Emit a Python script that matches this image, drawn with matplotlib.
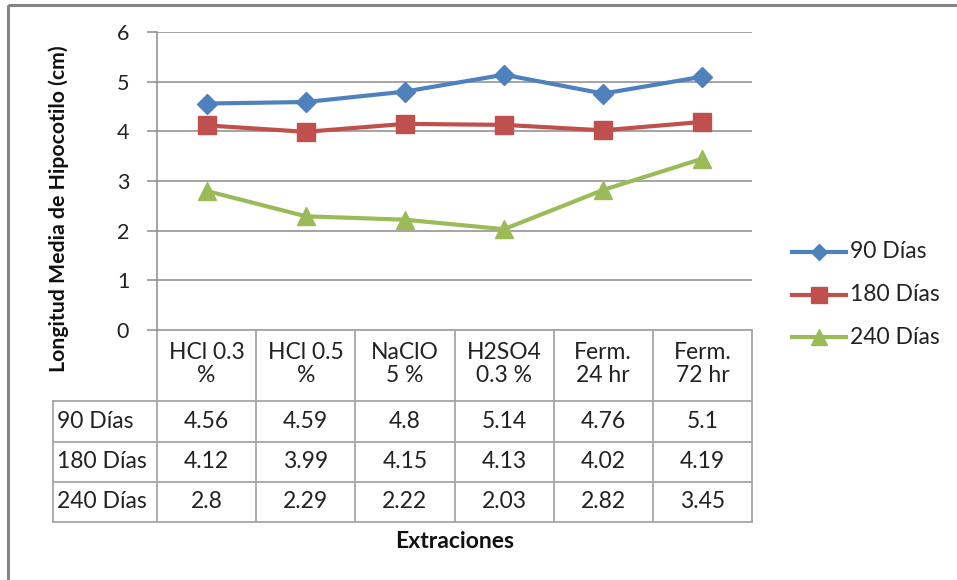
import matplotlib.pyplot as plt
from matplotlib.patches import Rectangle

plt.rcParams['font.family'] = ['Lato', 'DejaVu Sans']

categorias = ['HCl 0.3\n%', 'HCl 0.5\n%', 'NaClO\n5 %', 'H2SO4\n0.3 %', 'Ferm.\n24 hr', 'Ferm.\n72 hr']
series = ['90 Días', '180 Días', '240 Días']
dias_90 = [4.56, 4.59, 4.8, 5.14, 4.76, 5.1]
dias_180 = [4.12, 3.99, 4.15, 4.13, 4.02, 4.19]
dias_240 = [2.8, 2.29, 2.22, 2.03, 2.82, 3.45]
valores = [dias_90, dias_180, dias_240]
etiquetas = [['4.56', '4.59', '4.8', '5.14', '4.76', '5.1'],
             ['4.12', '3.99', '4.15', '4.13', '4.02', '4.19'],
             ['2.8', '2.29', '2.22', '2.03', '2.82', '3.45']]

colores = ['#4F81BD', '#C0504D', '#9BBB59']
marcadores = ['D', 's', '^']
tam = [10, 13, 13]
fs = 16.5
tc = '#222222'

W, H = 957, 580
fig = plt.figure(figsize=(W / 100, H / 100), dpi=100)

# capa en pixeles para marco, tabla y leyenda
bg = fig.add_axes([0, 0, 1, 1])
bg.set_xlim(0, W)
bg.set_ylim(H, 0)
bg.axis('off')
bg.add_patch(Rectangle((8, 5), W + 20, H + 20, fill=False, ec='#858585', lw=2.2))

x0, x1, ytop, ybot = 157, 752, 32, 330
ax = fig.add_axes([x0 / W, 1 - ybot / H, (x1 - x0) / W, (ybot - ytop) / H])
n = len(categorias)
xs = list(range(n))
for vals, c, m, s in zip(valores, colores, marcadores, tam):
    ax.plot(xs, vals, color=c, lw=3, marker=m, ms=s, mec=c, zorder=3)
ax.set_xlim(-0.5, n - 0.5)
ax.set_ylim(0, 6)
ax.set_yticks(range(7))
ax.yaxis.grid(True, color='#8c8c8c', lw=1.1)
ax.set_xticks([])
for sp in ['top', 'right', 'bottom']:
    ax.spines[sp].set_visible(False)
ax.spines['left'].set_color('#8c8c8c')
ax.spines['left'].set_linewidth(1.1)
ax.tick_params(axis='y', length=7, width=1.1, color='#8c8c8c', labelsize=15.5,
               labelcolor=tc, pad=13)

# tabla de datos
lc = '#a6a6a6'
cols = [157 + i * (752 - 157) / n for i in range(n + 1)]
filas = [330, 401, 442, 482, 522]
xl = 53
for xc in cols:
    bg.plot([xc, xc], [filas[0], filas[-1]], color=lc, lw=1.3)
bg.plot([xl, xl], [filas[1], filas[-1]], color=lc, lw=1.3)
bg.plot([x0, x1], [filas[0], filas[0]], color=lc, lw=1.3)
for yr in filas[1:]:
    bg.plot([xl, x1], [yr, yr], color=lc, lw=1.3)

for i, cat in enumerate(categorias):
    bg.text((cols[i] + cols[i + 1]) / 2, 364, cat, ha='center',
            va='center', fontsize=fs, color=tc, linespacing=1.12)
for r, (nombre, fila) in enumerate(zip(series, etiquetas)):
    ym = (filas[r + 1] + filas[r + 2]) / 2
    bg.text(xl + 4, ym, nombre, ha='left', va='center', fontsize=fs, color=tc)
    for i, t in enumerate(fila):
        bg.text((cols[i] + cols[i + 1]) / 2, ym, t, ha='center', va='center',
                fontsize=fs, color=tc)

bg.text(455, 542, 'Extraciones', ha='center', va='center',
        fontsize=16.5, fontweight='bold', color='#111111')
bg.text(59, 209, 'Longitud Media de Hipocotilo (cm)', ha='center', va='center',
        rotation=90, fontsize=15.3, fontweight='bold', color='#111111')

# leyenda
for r, (nombre, c, m, s) in enumerate(zip(series, colores, marcadores, tam)):
    yl = 252 + r * 42.5
    bg.plot([792, 846], [yl, yl], color=c, lw=3)
    bg.plot([819], [yl], marker=m, ms=s * 0.85, color=c, mec=c)
    bg.text(850, yl, nombre, ha='left', va='center', fontsize=fs, color=tc)

fig.savefig('out.png', dpi=100)
